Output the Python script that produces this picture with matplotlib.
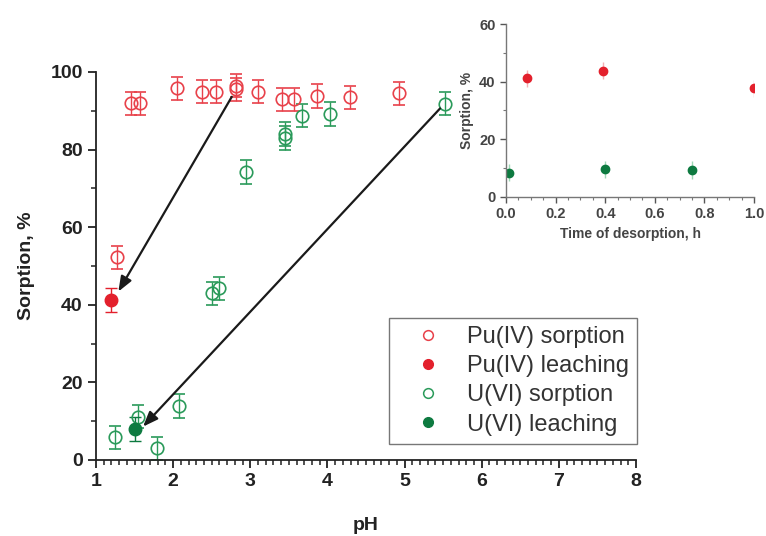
import matplotlib
matplotlib.use("Agg")
import matplotlib.pyplot as plt
from matplotlib.lines import Line2D
from matplotlib.ticker import MultipleLocator

plt.rcParams['font.family'] = ['Liberation Sans', 'DejaVu Sans']

# main panel: sorption vs pH
pu_sorp_ph = [1.27, 1.46, 1.57, 2.05, 2.37, 2.56, 2.82, 2.82, 3.10, 3.41, 3.57, 3.87, 4.29, 4.93]
pu_sorp_val = [52.2, 91.9, 91.9, 95.8, 94.9, 94.9, 95.5, 96.5, 94.9, 93.0, 93.0, 93.8, 93.5, 94.5]
pu_sorp_err = [3, 3, 3, 3, 3, 3, 3, 3, 3, 3, 3, 3, 3, 3]

pu_leach_ph = [1.20]
pu_leach_val = [41.2]
pu_leach_err = [3]

u_sorp_ph = [1.25, 1.55, 1.79, 2.07, 2.50, 2.59, 2.95, 3.45, 3.45, 3.67, 4.03, 5.53]
u_sorp_val = [5.8, 11.2, 3.0, 13.9, 43.0, 44.2, 74.2, 83.0, 84.0, 88.7, 89.2, 91.8]
u_sorp_err = [3, 3, 3, 3, 3, 3, 3, 3, 3, 3, 3, 3]

u_leach_ph = [1.50]
u_leach_val = [8.0]
u_leach_err = [3]

# arrows (start pH, start %, end pH, end %)
arrow_pu = (2.76, 93.6, 1.29, 43.4)
arrow_u = (5.46, 90.6, 1.61, 8.6)

# inset: leaching vs time
pu_time = [0.085, 0.39, 1.0]
pu_time_val = [41.2, 43.8, 37.7]
pu_time_err = [3, 3, 3]
u_time = [0.014, 0.40, 0.75]
u_time_val = [8.3, 9.5, 9.3]
u_time_err = [3, 3, 3]

labels = ["Pu(IV) sorption", "Pu(IV) leaching", "U(VI) sorption", "U(VI) leaching"]

RED = "#e8414a"
RED_F = "#e3202c"
GRN = "#2a9a5a"
GRN_F = "#0d7a40"

fig = plt.figure(figsize=(7.66, 5.36), dpi=100)
ax = fig.add_axes([0.1253, 0.1418, 0.705, 0.7239])

ms = 9
ax.errorbar(pu_sorp_ph, pu_sorp_val, yerr=pu_sorp_err, fmt="o", mfc="none", mec=RED,
            ecolor=RED, ms=ms, mew=1.2, elinewidth=1, capsize=4.5, capthick=1)
ax.errorbar(pu_leach_ph, pu_leach_val, yerr=pu_leach_err, fmt="o", mfc=RED_F, mec=RED_F,
            ecolor=RED_F, ms=ms, elinewidth=1, capsize=4.5, capthick=1)
ax.errorbar(u_sorp_ph, u_sorp_val, yerr=u_sorp_err, fmt="o", mfc="none", mec=GRN,
            ecolor=GRN, ms=ms, mew=1.2, elinewidth=1, capsize=4.5, capthick=1)
ax.errorbar(u_leach_ph, u_leach_val, yerr=u_leach_err, fmt="o", mfc=GRN_F, mec=GRN_F,
            ecolor=GRN_F, ms=ms, elinewidth=1, capsize=4.5, capthick=1)

for x0, y0, x1, y1 in (arrow_pu, arrow_u):
    ax.annotate("", xy=(x1, y1), xytext=(x0, y0),
                arrowprops=dict(arrowstyle="-|>,head_length=0.9,head_width=0.35",
                                color="#1a1a1a", lw=1.6, shrinkA=0, shrinkB=0))

ax.set_xlim(1, 8)
ax.set_ylim(0, 100)
ax.xaxis.set_major_locator(MultipleLocator(1))
ax.xaxis.set_minor_locator(MultipleLocator(0.1))
ax.yaxis.set_major_locator(MultipleLocator(20))
ax.yaxis.set_minor_locator(MultipleLocator(10))
for s in ("top", "right"):
    ax.spines[s].set_visible(False)
for s in ("left", "bottom"):
    ax.spines[s].set_linewidth(1.3)
    ax.spines[s].set_color("#222222")
ax.tick_params(which="major", length=6, width=1.3, labelsize=14, colors="#222222")
ax.tick_params(which="minor", length=3.5, width=1.1, colors="#222222")
for lab in ax.get_xticklabels() + ax.get_yticklabels():
    lab.set_fontweight("bold")
ax.set_xlabel("pH", fontsize=14, fontweight="bold", color="#222222", labelpad=19)
ax.set_ylabel("Sorption, %", fontsize=14, fontweight="bold", color="#222222", labelpad=11)

handles = [
    Line2D([], [], ls="none", marker="o", mfc="none", mec=RED, ms=7, mew=1.1),
    Line2D([], [], ls="none", marker="o", mfc=RED_F, mec=RED_F, ms=7),
    Line2D([], [], ls="none", marker="o", mfc="none", mec=GRN, ms=7, mew=1.1),
    Line2D([], [], ls="none", marker="o", mfc=GRN_F, mec=GRN_F, ms=7),
]
leg = ax.legend(handles, labels, loc="upper right", bbox_to_anchor=(0.8316, 0.4067),
                bbox_transform=fig.transFigure, borderaxespad=0, fontsize=17,
                frameon=True, fancybox=False, edgecolor="#555555", handletextpad=0.35,
                borderpad=0.35, labelspacing=0.3, handlelength=2.6)
leg.get_frame().set_linewidth(1.0)
for t in leg.get_texts():
    t.set_color("#333333")

# inset
ins = fig.add_axes([0.6606, 0.633, 0.3238, 0.322])
ins.errorbar(pu_time, pu_time_val, yerr=pu_time_err, fmt="o", color=RED_F,
             ecolor="#f4b0b4", ms=6, elinewidth=1, capsize=0)
ins.errorbar(u_time, u_time_val, yerr=u_time_err, fmt="o", color=GRN_F,
             ecolor="#9fd8b6", ms=6, elinewidth=1, capsize=0)
ins.set_xlim(0, 1.0)
ins.set_ylim(0, 60)
ins.xaxis.set_major_locator(MultipleLocator(0.2))
ins.xaxis.set_minor_locator(MultipleLocator(0.05))
ins.yaxis.set_major_locator(MultipleLocator(20))
ins.yaxis.set_minor_locator(MultipleLocator(10))
ins.set_facecolor("none")
for s in ("top", "right"):
    ins.spines[s].set_visible(False)
for s in ("left", "bottom"):
    ins.spines[s].set_color("#777777")
    ins.spines[s].set_linewidth(1.0)
ins.tick_params(which="major", length=4, width=1, labelsize=10.5, colors="#555555")
ins.tick_params(which="minor", length=2, width=0.8, colors="#777777")
for lab in ins.get_xticklabels() + ins.get_yticklabels():
    lab.set_fontweight("bold")
    lab.set_color("#444444")
ins.set_xlabel("Time of desorption, h", fontsize=10, fontweight="bold", color="#444444")
ins.set_ylabel("Sorption, %", fontsize=10, fontweight="bold", color="#444444")

fig.savefig("out.png", dpi=100)
